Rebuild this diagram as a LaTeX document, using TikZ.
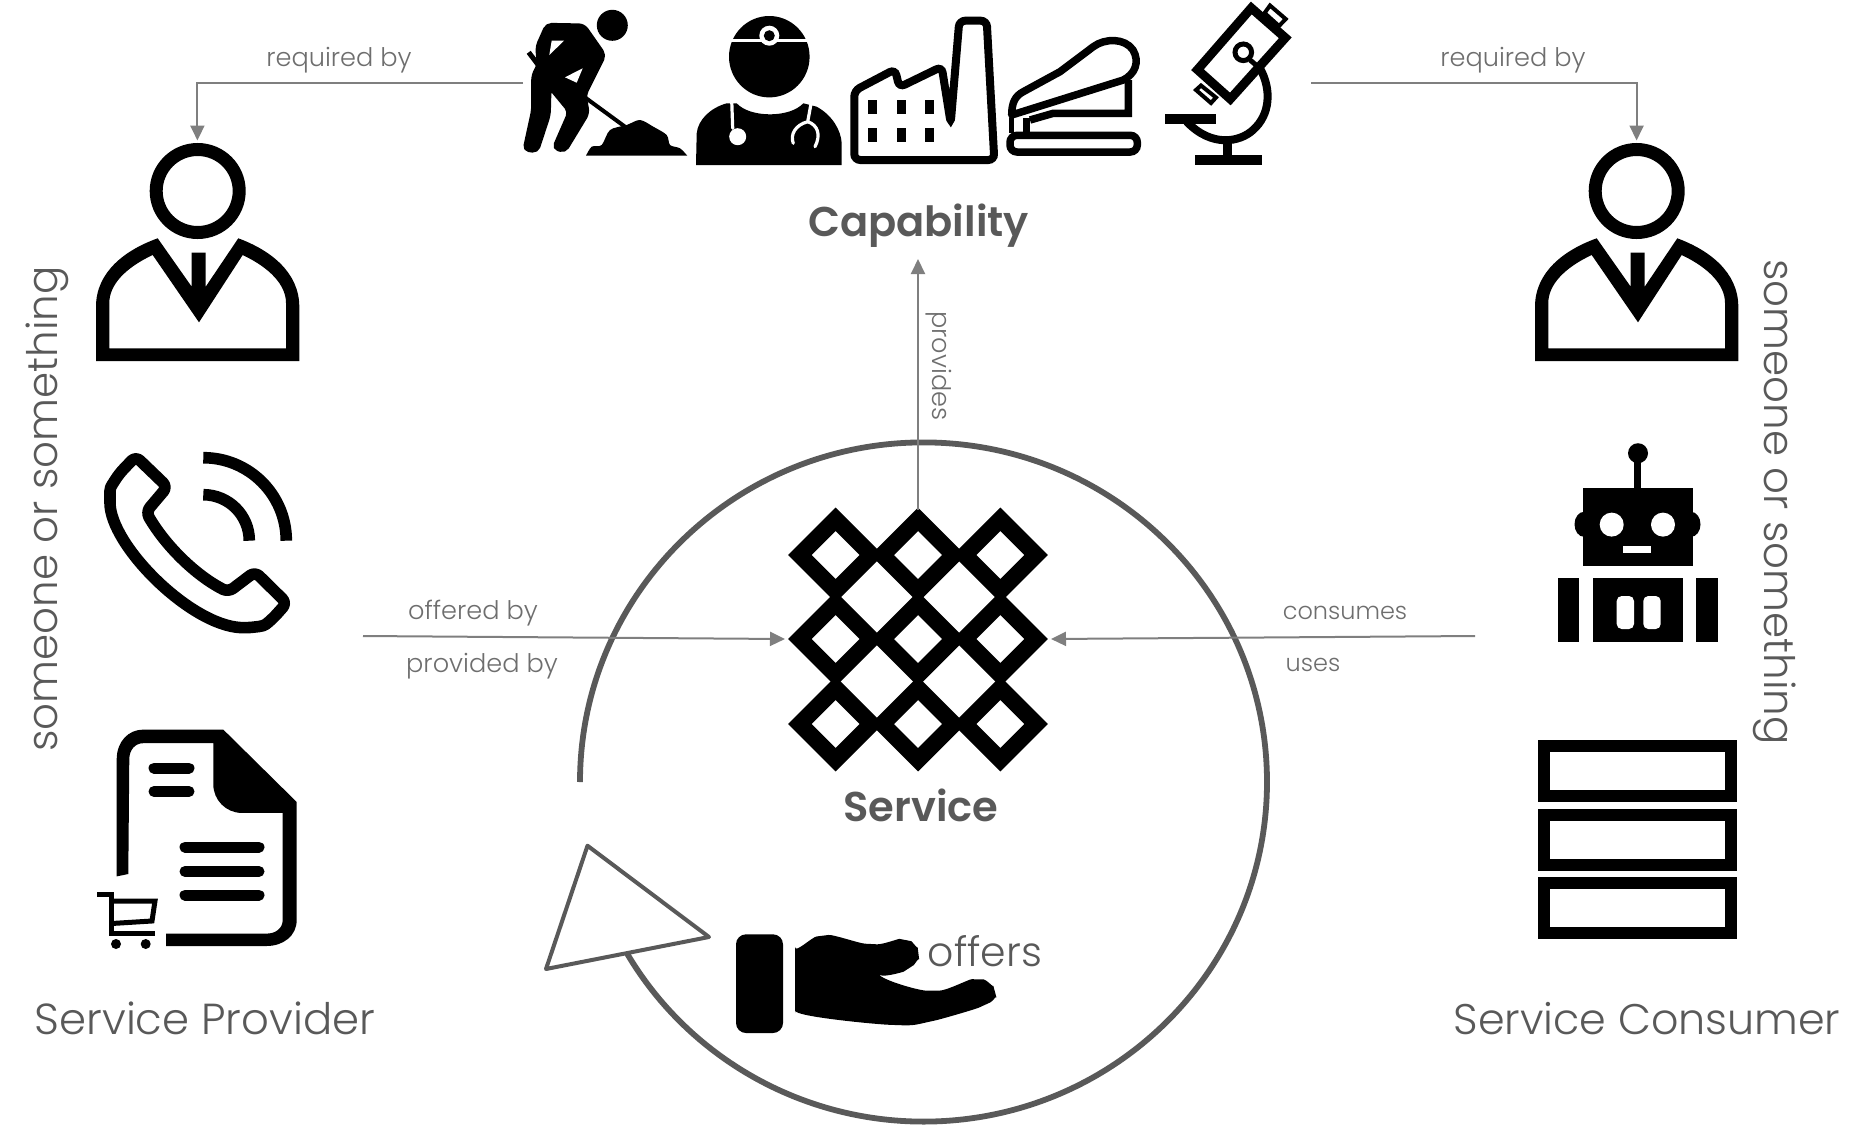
\documentclass[tikz,border=0pt]{standalone}
\usepackage{fontspec}
\setmainfont{Poppins}[UprightFont=* Light, BoldFont=* SemiBold]
\usetikzlibrary{arrows.meta}
\definecolor{labelgray}{HTML}{595959}
\definecolor{linkgray}{HTML}{7F7F7F}
\definecolor{linktext}{HTML}{6E6E6E}
\tikzset{
	link/.style={draw=linkgray, line width=1pt, -{Triangle[length=7.5pt, width=7pt, fill=linkgray]}},
	linklabel/.style={text=linktext, font=\fontsize{12.8}{12.8}\selectfont, inner sep=0pt},
	rolelabel/.style={text=labelgray, font=\fontsize{21.4}{21.4}\selectfont, inner sep=0pt},
	titlelabel/.style={text=labelgray, font=\fontsize{20.8}{20.8}\selectfont\bfseries, inner sep=0pt},
	wire/.style={draw=black, line width=#1, fill=none},
	whitewire/.style={draw=white, line width=#1, line cap=round}
}
\newcommand{\personicon}{\draw[wire=6.5pt] (197.7,191) circle (41.5);
					\fill[even odd rule] (96,361) -- (96,306.7) .. controls (96,272) and (125,250) .. (157.7,238.3) -- (191.7,286.7) -- (191.7,252.7) -- (205.7,252.7) -- (205.7,286.7) -- (238.3,238.3) .. controls (270,250) and (299.3,272) .. (299.3,306.7) -- (299.3,361) -- cycle
					(109.3,348.3) -- (109.3,303) .. controls (109.3,285) and (125,268) .. (152.7,255) -- (199,322.3) -- (242.7,255) .. controls (270,268) and (286,285) .. (286,303) -- (286,348.3) -- cycle;}
\newcommand{\servicecell}{\draw[wire=8.3pt] (-35.75,0) -- (0,-35.75) -- (35.75,0) -- (0,35.75) -- cycle;}
\newcommand{\stackbar}{\draw[wire=6pt] (1544,746) rectangle (1731.3,796);}

\begin{document}
\begin{tikzpicture}[x=0.5pt, y=-0.5pt]
	\useasboundingbox (0,0) rectangle (1865,1125);

	% worker
	\filldraw[line width=1.5pt, line join=round, rounded corners=2.5pt] (546.7,24.3) -- (584,25) -- (605,55) -- (585,95) -- (588.3,113.3) -- (565,151.7) -- (553.3,148.3) -- (569.3,111.7) -- (550,88.3) -- (549.3,115) -- (537.3,151.7) -- (524,150) -- (532.7,110) -- (532.7,75) -- (538.3,65) -- (536.7,46.7) -- cycle;
	\fill[white] (551.7,40.7) -- (564,40.7) -- (549.3,55) -- cycle;
	\fill[white] (582.7,68.3) -- (576.7,82.7) -- (565,77.3) -- cycle;
	\fill (612.3,25.3) circle (15.5);
	\draw[wire=2.5pt] (528.7,52.3) -- (538.3,65);
	\draw[wire=2pt] (584,96.7) -- (625,126.7);
	\fill plot[smooth] coordinates {(586,155.7) (591.7,146.7) (601.7,145) (610,130) (626.7,125) (640,120) (653.3,126.7) (666.7,135) (670,145) (680,148.3) (687.3,155.7)} -- cycle;

	% doctor
	\fill (769.3,56.7) ellipse [x radius=40.3, y radius=40.7];
	\draw[whitewire=1.5pt] (728,40) -- (810,40);
	\fill[white] (769.3,35.7) circle (10);
	\fill (769.3,35.7) circle (5.5);
	\fill (696,165) -- (696.7,133.3) .. controls (698,120) and (710,108) .. (726.7,103.3) -- (736.7,103.3) .. controls (750,118) and (790,118) .. (803.3,103.3) -- (816.7,106.7) .. controls (832,115) and (841,130) .. (841.7,143.3) -- (841.7,165) -- cycle;
	\draw[whitewire=1.6pt] (731.7,100) -- (732.7,128.3);
	\fill[white] (737.7,136.7) circle (8.5);
	\draw[whitewire=1.6pt] (811.7,100) -- (807.7,121.7) .. controls (795,125) and (790,135) .. (793.3,143.3);
	\draw[whitewire=1.6pt] (807.7,121.7) .. controls (818,125) and (821,135) .. (815,146.7);

	% factory
	\draw[wire=4pt, rounded corners=3pt] (854.3,160) -- (854.3,90.7) -- (895,69.3) -- (899.3,87.3) -- (941.7,66.7) -- (950.7,123.3) -- (959.3,20.7) -- (986.7,20.7) -- (994.3,160) -- cycle;
	\fill (868.3,100) rectangle (877.3,114);
	\fill (896.7,100) rectangle (905.7,114);
	\fill (924.7,100) rectangle (934,114);
	\fill (868.3,128) rectangle (877.3,142);
	\fill (896.7,128) rectangle (905.7,142);
	\fill (924.7,128) rectangle (934,142);

	% stapler
	\draw[wire=3.75pt, rounded corners=3.5pt] (1010,135.3) rectangle (1137.3,152);
	\draw[wire=3.75pt, line join=round] (1011.7,115) .. controls (1011.7,103) and (1015,96) .. (1023.3,91.7) -- (1060,71.7) -- (1093.3,46.7) .. controls (1105,38) and (1125,38) .. (1133,50) .. controls (1140,62) and (1135,74) .. (1123.3,80) -- cycle;
	\draw[wire=3.75pt] (1128.3,80) -- (1128.3,113.3) -- (1053.3,113.3) -- (1030,120);
	\draw[wire=3.75pt] (1026.7,118.3) -- (1026.7,133);
	\draw[wire=2.5pt] (1011.7,118) -- (1011.7,133);

	% microscope
	\draw[wire=4pt] (1260,68.3) .. controls (1272,90) and (1270,115) .. (1253,130) .. controls (1240,142) and (1212,148) .. (1186.7,121.7);
	\draw[wire=4.5pt, fill=white] (1251.3,8) -- (1285.3,37.8) -- (1230.3,99) -- (1197.5,69.7) -- cycle;
	\draw[wire=2pt] (1270,5.5) -- (1285.7,19) -- (1279,26) -- (1264.6,13) -- cycle;
	\draw[wire=2pt] (1201,85.5) -- (1216,97.5) -- (1211,103) -- (1196,90) -- cycle;
	\draw[wire=2.5pt] (1243.3,52.3) circle (8.3);
	\draw[wire=2.5pt] (1250,60) -- (1260,68.3);
	\fill (1164.7,114) rectangle (1215.7,124);
	\fill (1222.7,142) rectangle (1232.3,157);
	\fill (1195,155) rectangle (1261.7,165);

	% provider side
	\personicon

	\draw[wire=5.8pt, rounded corners=3pt, line join=round] (135.7,456.4) -- (167.3,486.8) -- (146,512) .. controls (165,545) and (195,575) .. (228.3,592) -- (255,571.8) -- (286.7,603) -- (273.3,618) .. controls (264,626) .. (246.7,627.9) .. controls (190,625) and (110,545) .. (110,496.8) .. controls (110,488) .. (119.3,473.6) -- cycle;
	\draw[wire=5.8pt] (203.3,494.7) arc [start angle=270, end angle=360, radius=46];
	\draw[wire=5.8pt] (203.3,457.7) arc [start angle=270, end angle=360, radius=83];

	\fill (116.7,876.4) -- (116.7,759.3) .. controls (116.7,742) and (128,729.6) .. (143.3,729.6) -- (223.3,729.6) -- (296.7,802) -- (296.7,920) .. controls (296.7,936) and (283,946) .. (266.7,946) -- (166,946) -- (166,933.6) -- (266.7,933.6) .. controls (276,933.6) and (282.7,928) .. (282.7,920) -- (282.7,812.9) -- (241.7,812.9) .. controls (226,812.9) and (213.3,800) .. (213.3,784.3) -- (213.3,743.2) -- (143.3,743.2) .. controls (135,743.2) and (129.3,750) .. (129.3,759.3) -- (128.3,874) -- cycle;
	\draw[wire=5.5pt, line cap=round] (154,768) -- (189,768);
	\draw[wire=5.5pt, line cap=round] (154,791.4) -- (189,791.4);
	\draw[wire=5.5pt, line cap=round] (185,847) -- (259,847);
	\draw[wire=5.5pt, line cap=round] (185,871.4) -- (259,871.4);
	\draw[wire=5.5pt, line cap=round] (185,895) -- (259,895);
	\draw[wire=2.5pt] (97.3,894) -- (111.7,894) -- (111.7,933) -- (155,933);
	\draw[wire=2.5pt] (111.7,901) -- (155,901) -- (152,921) -- (111.7,923.5);
	\fill (116,944) circle (5);
	\fill (145.7,944) circle (5);

	% consumer side
	\begin{scope}[xshift = 719.5pt]
		\personicon
	\end{scope}

	\fill (1638,453.2) circle (10);
	\fill (1634.3,460) rectangle (1641,490);
	\fill (1584,524.3) ellipse [x radius=9.5, y radius=12.5];
	\fill (1691,524.3) ellipse [x radius=9.5, y radius=12.5];
	\fill (1582.7,487.9) rectangle (1693,565.7);
	\fill[white] (1611.7,524.6) circle (12);
	\fill[white] (1663,524.6) circle (12);
	\fill[white] (1623,545.7) rectangle (1651.3,552.5);
	\fill (1557.7,578.2) rectangle (1579.3,641.8);
	\fill (1696,578.2) rectangle (1718,641.8);
	\fill (1593.3,578.2) rectangle (1683.3,641.8);
	\fill[white, rounded corners=2.5pt] (1616.7,596) rectangle (1634,629);
	\fill[white, rounded corners=2.5pt] (1643.3,596) rectangle (1660.7,629);

	\stackbar
	\begin{scope}[yshift = -34.4pt]
		\stackbar
	\end{scope}
	\begin{scope}[yshift = -68.6pt]
		\stackbar
	\end{scope}

	% service grid
	\begin{scope}[shift={(835.7,555)}]
		\servicecell
	\end{scope}
	\begin{scope}[shift={(918,555)}]
		\servicecell
	\end{scope}
	\begin{scope}[shift={(1000.3,555)}]
		\servicecell
	\end{scope}
	\begin{scope}[shift={(835.7,639)}]
		\servicecell
	\end{scope}
	\begin{scope}[shift={(918,639)}]
		\servicecell
	\end{scope}
	\begin{scope}[shift={(1000.3,639)}]
		\servicecell
	\end{scope}
	\begin{scope}[shift={(835.7,724)}]
		\servicecell
	\end{scope}
	\begin{scope}[shift={(918,724)}]
		\servicecell
	\end{scope}
	\begin{scope}[shift={(1000.3,724)}]
		\servicecell
	\end{scope}

	% ring and hand
	\draw[draw=labelgray, line width=2.9pt] (580,782) arc [start angle=180, end angle=509.6, x radius=343.5, y radius=339.6];
	\draw[draw=labelgray, line width=2pt, line join=round] (587.5,845.7) -- (709,937) -- (546,969) -- cycle;
	\fill[rounded corners=5pt] (736,934.3) rectangle (783,1033);
	\fill[rounded corners=3pt] plot[smooth] coordinates {(795.2,953.3) (822.7,935.7) (871,944) (905.3,940) (918.4,953.3) (908.8,968.3) (878.5,979.3)} -- plot[smooth] coordinates {(878.5,979.3) (932.9,990.7) (977.7,979.3) (994.9,991.7) (984.6,1005) (929.5,1021.7) (895,1025) (795.2,1016.7)} -- cycle;

	% labels
	\node[titlelabel] (capability) at (918.5,226) {Capability};
	\node[titlelabel] (service) at (921,805) {Service};
	\node[linklabel] (reqleft) at (339,60) {required by};
	\node[linklabel] (reqright) at (1513,60) {required by};
	\node[linklabel, rotate=-90] (provides) at (938.5,366) {provides};
	\node[linklabel] (offeredby) at (473,613) {offered by};
	\node[linklabel] (providedby) at (482,666) {provided by};
	\node[linklabel, font=\fontsize{12}{12}\selectfont] (consumes) at (1345,613) {consumes};
	\node[linklabel, font=\fontsize{12}{12}\selectfont] (uses) at (1313,665) {uses};
	\node[rolelabel, font=\fontsize{20.5}{20.5}\selectfont] (offers) at (985,951) {offers};
	\node[rolelabel, font=\fontsize{21.7}{21.7}\selectfont] (provider) at (205,1018) {Service Provider};
	\node[rolelabel] (consumer) at (1647,1019) {Service Consumer};
	\node[rolelabel, font=\fontsize{21}{21}\selectfont, rotate=90] (someleft) at (47,509) {someone or something};
	\node[rolelabel, font=\fontsize{21}{21}\selectfont, rotate=-90] (someright) at (1775,502) {someone or something};

	% connectors
	\coordinate (capleft) at (523,82.7);
	\coordinate (capright) at (1311,82.7);
	\coordinate (headleft) at (197.4,140.5);
	\coordinate (headright) at (1636.6,140.5);
	\coordinate (gridtop) at (918,510);
	\coordinate (capbottom) at (918,259);
	\coordinate (offerstart) at (363,636);
	\coordinate (gridleft) at (785,639);
	\coordinate (consumestart) at (1475,636);
	\coordinate (gridright) at (1051,639);
	\draw[link] (capleft) -| (headleft);
	\draw[link] (capright) -| (headright);
	\draw[link] (gridtop) -- (capbottom);
	\draw[link] (offerstart) -- (gridleft);
	\draw[link] (consumestart) -- (gridright);
\end{tikzpicture}
\end{document}
